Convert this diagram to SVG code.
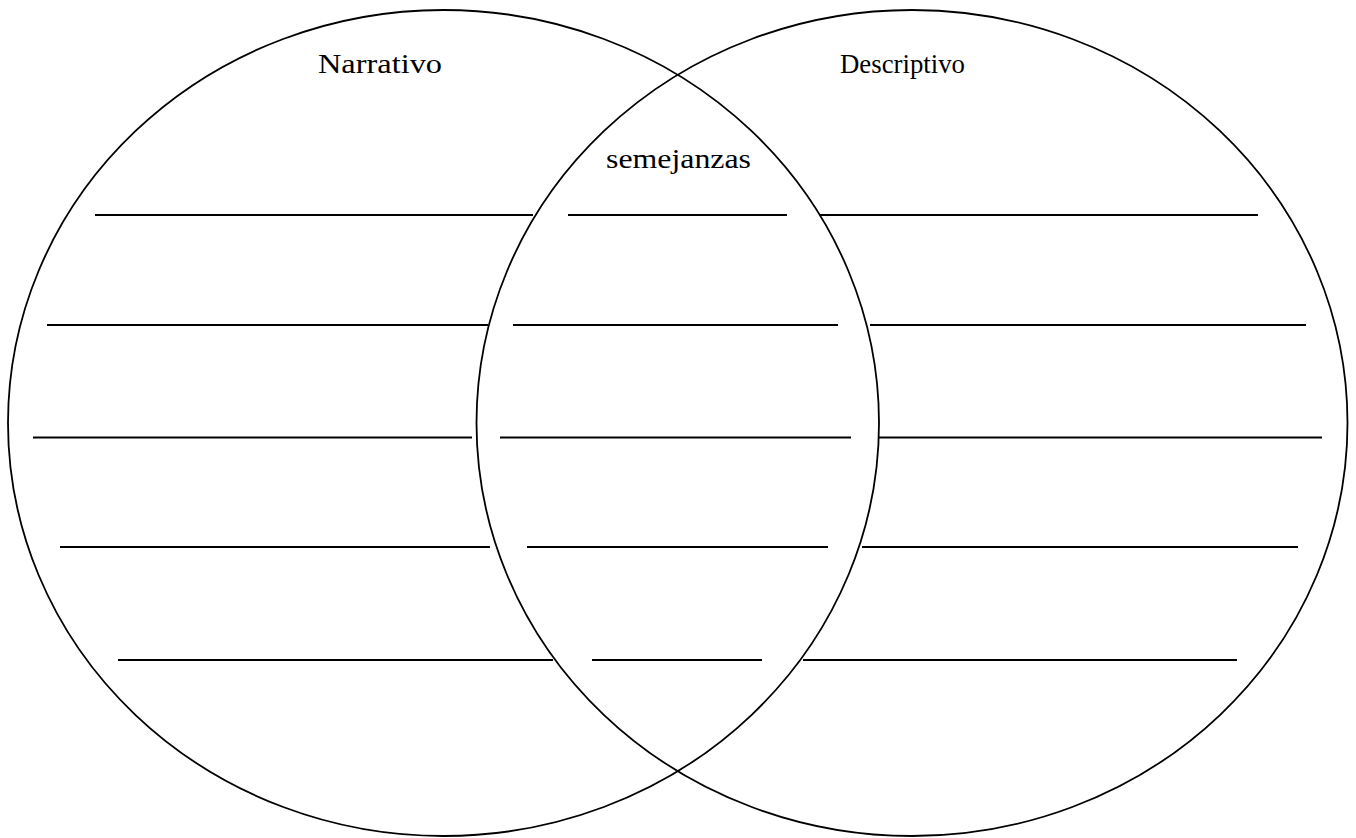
<svg xmlns="http://www.w3.org/2000/svg" width="1356" height="838" viewBox="0 0 1356 838">
<style>
.c{fill:none;stroke:#000;stroke-width:1.8}
.l{stroke:#000;stroke-width:1.8}
.t{font-family:"Liberation Serif","Times New Roman",serif;font-size:28px;fill:#000}
</style>
<rect width="1356" height="838" fill="#fff"/>
<g id="left-circle"><ellipse class="c" cx="443.5" cy="423" rx="435.5" ry="413"/></g>
<g id="right-circle"><ellipse class="c" cx="912" cy="423" rx="435.5" ry="413"/></g>
<g id="labels">
<text class="t" x="318" y="73" textLength="124" lengthAdjust="spacingAndGlyphs">Narrativo</text>
<text class="t" x="840" y="73" textLength="125" lengthAdjust="spacingAndGlyphs">Descriptivo</text>
<text class="t" x="606" y="168" textLength="145" lengthAdjust="spacingAndGlyphs">semejanzas</text>
</g>
<g id="lines">
<line class="l" x1="95" y1="215" x2="533" y2="215"/>
<line class="l" x1="568" y1="215" x2="787" y2="215"/>
<line class="l" x1="820" y1="215" x2="1258" y2="215"/>
<line class="l" x1="47" y1="325" x2="488" y2="325"/>
<line class="l" x1="513" y1="325" x2="838" y2="325"/>
<line class="l" x1="870" y1="325" x2="1306" y2="325"/>
<line class="l" x1="33" y1="437.5" x2="472" y2="437.5"/>
<line class="l" x1="500" y1="437.5" x2="851" y2="437.5"/>
<line class="l" x1="879" y1="437.5" x2="1322" y2="437.5"/>
<line class="l" x1="60" y1="547" x2="490" y2="547"/>
<line class="l" x1="527" y1="547" x2="828" y2="547"/>
<line class="l" x1="862" y1="547" x2="1298" y2="547"/>
<line class="l" x1="118" y1="660" x2="553" y2="660"/>
<line class="l" x1="592" y1="660" x2="762" y2="660"/>
<line class="l" x1="803" y1="660" x2="1237" y2="660"/>
</g>
</svg>
